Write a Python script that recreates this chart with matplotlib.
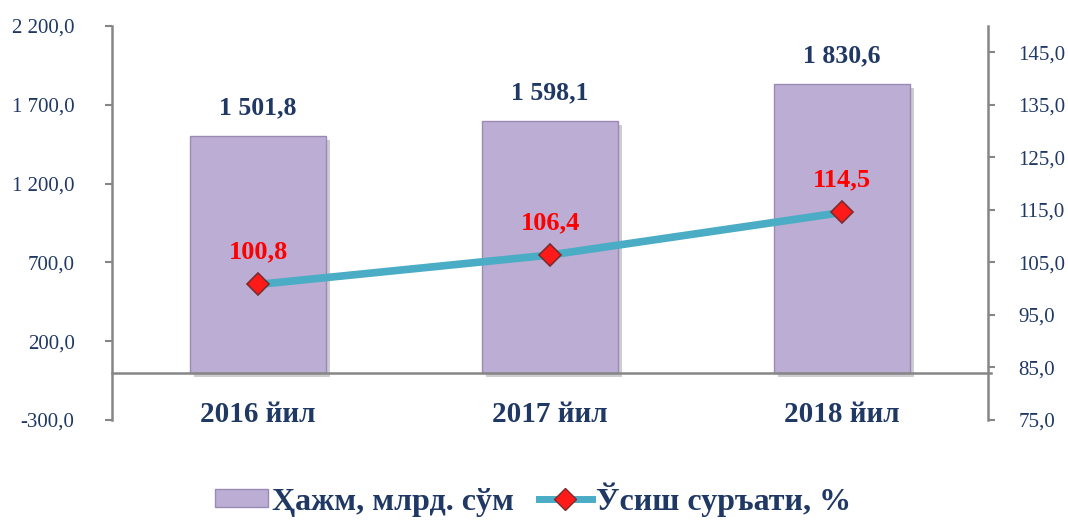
import matplotlib.pyplot as plt
import matplotlib.patheffects as pe
from matplotlib.lines import Line2D
from matplotlib.patches import Patch
from matplotlib.ticker import FuncFormatter

# data
years = ["2016 йил", "2017 йил", "2018 йил"]
volume = [1501.8, 1598.1, 1830.6]      # млрд. сўм
growth = [100.8, 106.4, 114.5]         # %

bar_color = "#BBADD3"
line_color = "#4BACC6"
navy = "#1F3864"
grey = "#868686"

plt.rcParams["font.family"] = ["Liberation Serif", "DejaVu Serif"]


def fmt(v, pos=None):
    s = f"{abs(v):,.1f}".replace(",", " ").replace(".", ",")
    return ("-" if v < 0 else "") + s


fig = plt.figure(figsize=(10.68, 5.23), dpi=100)
ax = fig.add_axes([0.1049, 0.197, 0.8203, 0.7533])
ax2 = ax.twinx()

x = list(range(len(years)))
bars = ax.bar(x, volume, width=0.465, color=bar_color, edgecolor="#9A8AB5",
              linewidth=1.0, zorder=2)
for b in bars:
    b.set_path_effects([pe.SimplePatchShadow(offset=(3, -3), alpha=0.25), pe.Normal()])

ax.set_xlim(-0.5, 2.5)
ax.set_ylim(-300, 2200)
ax.set_yticks([-300, 200, 700, 1200, 1700, 2200])
ax.yaxis.set_major_formatter(FuncFormatter(fmt))
ax.axhline(0, color=grey, lw=1.8, zorder=3, xmax=1.003, clip_on=False)
ax.set_xticks([])

for xi, v in zip(x, volume):
    ax.annotate(fmt(v), (xi, v), xytext=(0, 12), textcoords="offset points",
                ha="center", va="bottom", fontsize=18.5, fontweight="bold", color=navy)

for xi, lab in zip(x, years):
    ax.text(xi, 0.015, lab, transform=ax.get_xaxis_transform(), ha="center",
            va="center", fontsize=21, fontweight="bold", color=navy)

ax2.plot(x, growth, color=line_color, lw=5.5, solid_capstyle="round", zorder=4,
         marker="D", markersize=11, markerfacecolor="#FF1A1A",
         markeredgecolor="#7F2A2A", markeredgewidth=1.2)
ax2.set_ylim(75, 150)
ax2.set_yticks([75, 85, 95, 105, 115, 125, 135, 145])
ax2.yaxis.set_major_formatter(FuncFormatter(fmt))
for xi, g in zip(x, growth):
    ax2.annotate(fmt(g), (xi, g), xytext=(0, 15), textcoords="offset points",
                 ha="center", va="bottom", fontsize=19, fontweight="bold", color="#FF0000")

for a in (ax, ax2):
    for s in ("top", "bottom"):
        a.spines[s].set_visible(False)
    a.tick_params(axis="y", colors=grey, labelcolor=navy, labelsize=15,
                  length=5, width=1.5)
ax.tick_params(axis="y", pad=22)
ax2.tick_params(axis="y", pad=17)
ax.spines["right"].set_visible(False)
ax2.spines["left"].set_visible(False)
ax.spines["left"].set_color(grey)
ax.spines["left"].set_linewidth(1.8)
ax2.spines["right"].set_color(grey)
ax2.spines["right"].set_linewidth(1.8)

handles = [
    Patch(facecolor=bar_color, edgecolor="#9A8AB5"),
    Line2D([], [], color=line_color, lw=5, marker="D", markersize=11,
           markerfacecolor="#FF1A1A", markeredgecolor="#7F2A2A"),
]
fig.legend(handles, ["Ҳажм, млрд. сўм", "Ўсиш суръати, %"], loc="center",
           bbox_to_anchor=(0.499, 0.045), ncol=2, frameon=False,
           prop={"size": 23, "weight": "bold"}, labelcolor=navy,
           handlelength=1.65, handleheight=0.5, handletextpad=0.12,
           columnspacing=0.8)

fig.savefig("out.png", dpi=100)
